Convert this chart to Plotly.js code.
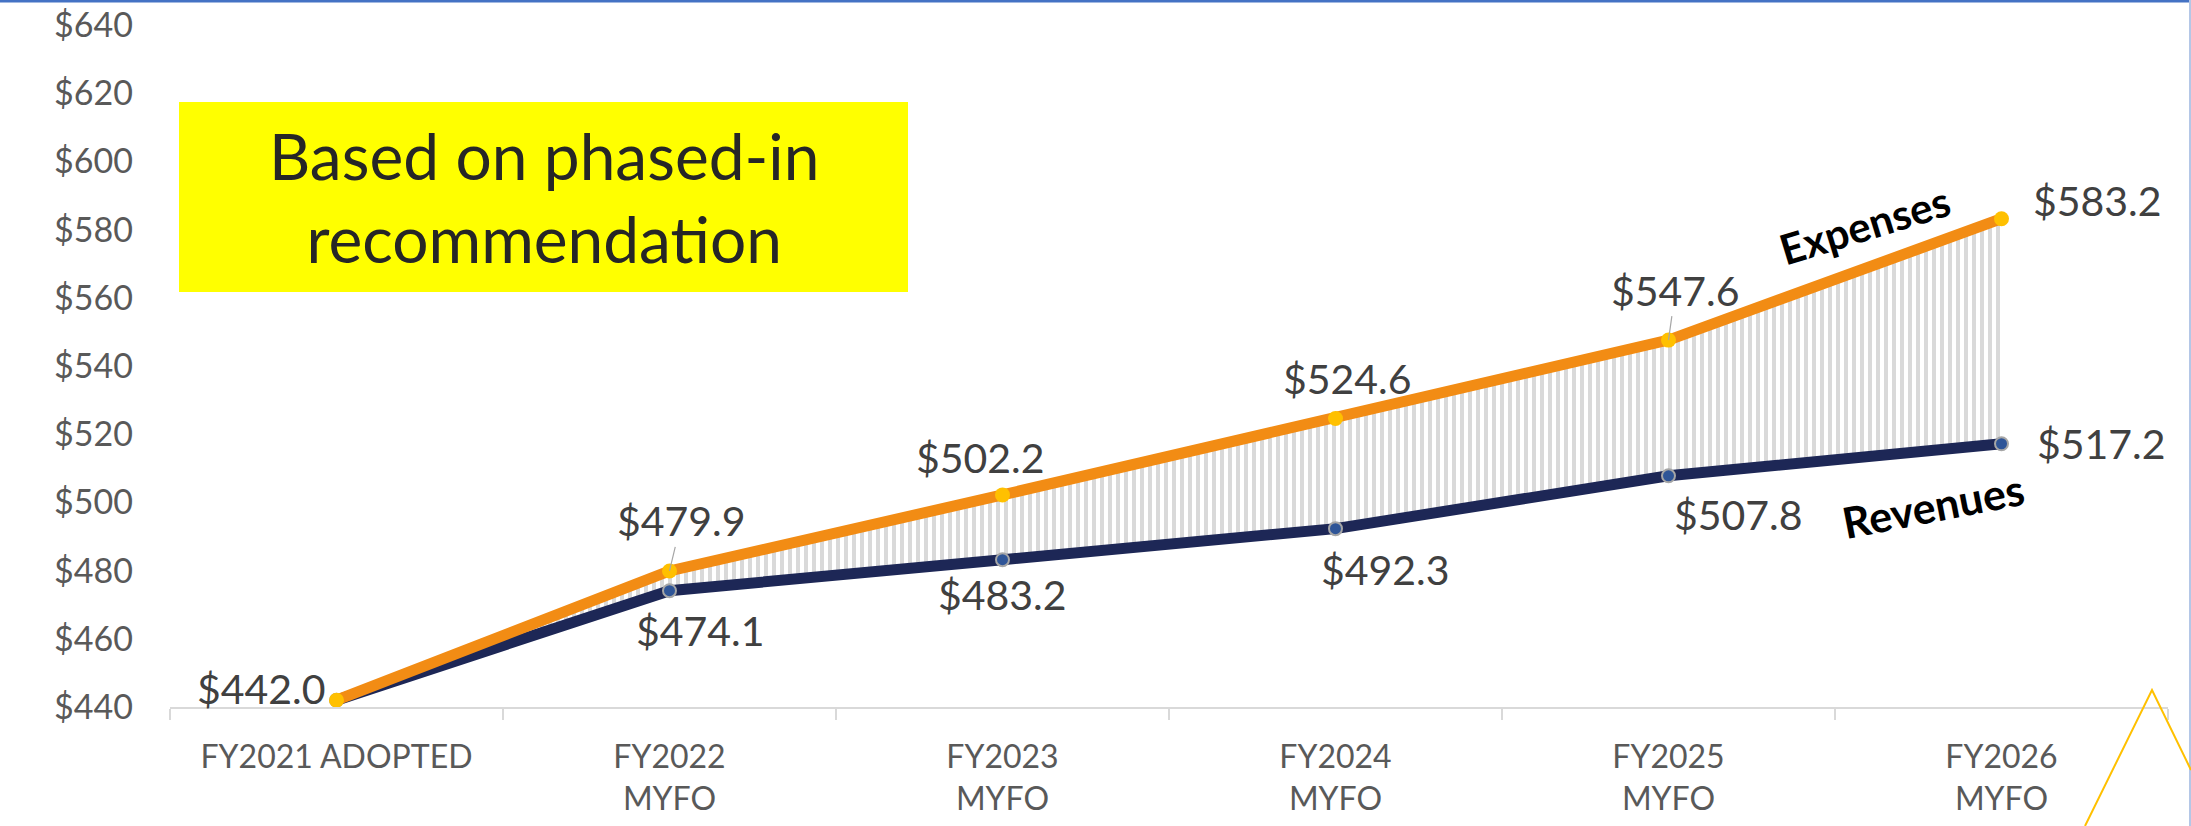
<!DOCTYPE html>
<html>
<head>
<meta charset="utf-8">
<script src="https://cdn.plot.ly/plotly-3.0.1.min.js"></script>
<style>
  html, body { margin: 0; padding: 0; background: #ffffff; }
  #chart { width: 2191px; height: 826px; }
</style>
</head>
<body>
<div id="chart"></div>
<script>
// ---- data ----
const categories = ["FY2021 ADOPTED", "FY2022<br>MYFO", "FY2023<br>MYFO", "FY2024<br>MYFO", "FY2025<br>MYFO", "FY2026<br>MYFO"];
const expenses = [442.0, 479.9, 502.2, 524.6, 547.6, 583.2];
const revenues = [442.0, 474.1, 483.2, 492.3, 507.8, 517.2];
const yTickValues = [440, 460, 480, 500, 520, 540, 560, 580, 600, 620, 640];
const yTickLabels = ["$440", "$460", "$480", "$500", "$520", "$540", "$560", "$580", "$600", "$620", "$640"];
const noteText = "Based on phased-in<br>recommendation";
const seriesNames = ["Expenses", "Revenues"];

// ---- layout geometry (pixels) ----
const W = 2191, H = 826;
const M = { l: 170, r: 23, t: 25, b: 119 };
const PW = W - M.l - M.r, PH = H - M.t - M.b;
const px = p => (p - M.l) / PW;
const py = p => (H - M.b - p) / PH;

const FONT = "Lato, 'Open Sans', sans-serif";

// label offsets (pixels, label centre relative to point; up positive)
const expOffsets = [[-75, 12], [12, 50], [-22, 37], [12, 40], [7, 50], [96, 18]];
const expLeader = [false, true, false, false, true, false];
const revOffsets = [null, [31, -40], [0, -35], [50, -41], [70, -39], [100, 0]];

const traces = [
  {
    x: categories, y: revenues, name: seriesNames[1], type: "scatter", mode: "lines+markers",
    line: { color: "#1D2756", width: 11 },
    marker: { color: "#2F5597", size: 13, line: { color: "#A6A6A6", width: 2 } },
    cliponaxis: false, hoverinfo: "skip"
  },
  {
    x: categories, y: expenses, name: seriesNames[0], type: "scatter", mode: "lines+markers",
    fill: "tonexty", fillcolor: "rgba(255,255,255,0)",
    fillpattern: { shape: "|", size: 8, solidity: 0.5, fgcolor: "#D9D9D9", bgcolor: "rgba(255,255,255,0)", fgopacity: 1 },
    line: { color: "#F28C14", width: 11 },
    marker: { color: "#FFC000", size: 15 },
    cliponaxis: false, hoverinfo: "skip"
  }
];

const fmt = v => "$" + v.toFixed(1);
const labelFont = { family: FONT, size: 41, color: "#404040" };
const annotations = [];

expenses.forEach((v, i) => {
  const [dx, dy] = expOffsets[i];
  if (expLeader[i]) {
    annotations.push({
      x: categories[i], y: v, xref: "x", yref: "y", text: fmt(v), font: labelFont,
      showarrow: true, arrowhead: 0, arrowwidth: 1.2, arrowcolor: "#A6A6A6",
      ax: dx, ay: -dy, standoff: 0
    });
  } else {
    annotations.push({
      x: categories[i], y: v, xref: "x", yref: "y", text: fmt(v), font: labelFont,
      showarrow: false, xshift: dx, yshift: dy, xanchor: "center", yanchor: "middle"
    });
  }
});
revenues.forEach((v, i) => {
  const o = revOffsets[i];
  if (!o) return;
  annotations.push({
    x: categories[i], y: v, xref: "x", yref: "y", text: fmt(v), font: labelFont,
    showarrow: false, xshift: o[0], yshift: o[1], xanchor: "center", yanchor: "middle"
  });
});

// series name labels
annotations.push({
  xref: "paper", yref: "paper", x: px(1864), y: py(225), xanchor: "center", yanchor: "middle",
  text: "<b>" + seriesNames[0] + "</b>",
  showarrow: false, textangle: -17, font: { family: FONT, size: 42, color: "#000000" }
});
annotations.push({
  xref: "paper", yref: "paper", x: px(1933), y: py(505), xanchor: "center", yanchor: "middle",
  text: "<b>" + seriesNames[1] + "</b>",
  showarrow: false, textangle: -11, font: { family: FONT, size: 43, color: "#000000" }
});

// note box text
annotations.push({
  xref: "paper", yref: "paper", x: px(543.5), y: py(197), xanchor: "center", yanchor: "middle",
  text: noteText,
  showarrow: false, align: "center", font: { family: FONT, size: 64, color: "#262626" }
});

const shapes = [
  // yellow note box
  { type: "rect", xref: "paper", yref: "paper", x0: px(179), x1: px(908), y0: py(292), y1: py(102),
    fillcolor: "#FFFF00", line: { width: 0 }, layer: "below" },
  // slide top rule
  { type: "line", xref: "paper", yref: "paper", x0: px(0), x1: px(W), y0: py(1), y1: py(1),
    line: { color: "#4472C4", width: 3 } },
  // right frame
  { type: "line", xref: "paper", yref: "paper", x0: px(2190), x1: px(2190), y0: py(0), y1: py(H),
    line: { color: "#B4C7E7", width: 2 } },
  // decorative triangle
  { type: "path", xref: "paper", yref: "paper",
    path: `M ${px(2085)} ${py(826)} L ${px(2152)} ${py(690)} L ${px(2191)} ${py(770)}`,
    line: { color: "#FFC000", width: 2 } }
];

const layout = {
  width: W, height: H,
  margin: M,
  paper_bgcolor: "#ffffff", plot_bgcolor: "#ffffff",
  showlegend: false,
  font: { family: FONT, color: "#595959" },
  xaxis: {
    type: "category", range: [-0.5, 5.5], fixedrange: true,
    showline: true, linecolor: "#D9D9D9", linewidth: 2,
    ticks: "outside", tickson: "boundaries", ticklen: 11, tickcolor: "#D9D9D9", tickwidth: 2,
    showgrid: false, zeroline: false,
    tickfont: { family: FONT, size: 32, color: "#595959" },
    ticklabelstandoff: 21
  },
  yaxis: {
    range: [440, 640], tickmode: "array", tickvals: yTickValues, ticktext: yTickLabels, fixedrange: true,
    showline: false, showgrid: false, zeroline: false, ticks: "",
    tickfont: { family: FONT, size: 34, color: "#595959" },
    ticklabelstandoff: 36
  },
  shapes: shapes,
  annotations: annotations
};

Plotly.newPlot("chart", traces, layout, { displayModeBar: false, staticPlot: true });
</script>
</body>
</html>
